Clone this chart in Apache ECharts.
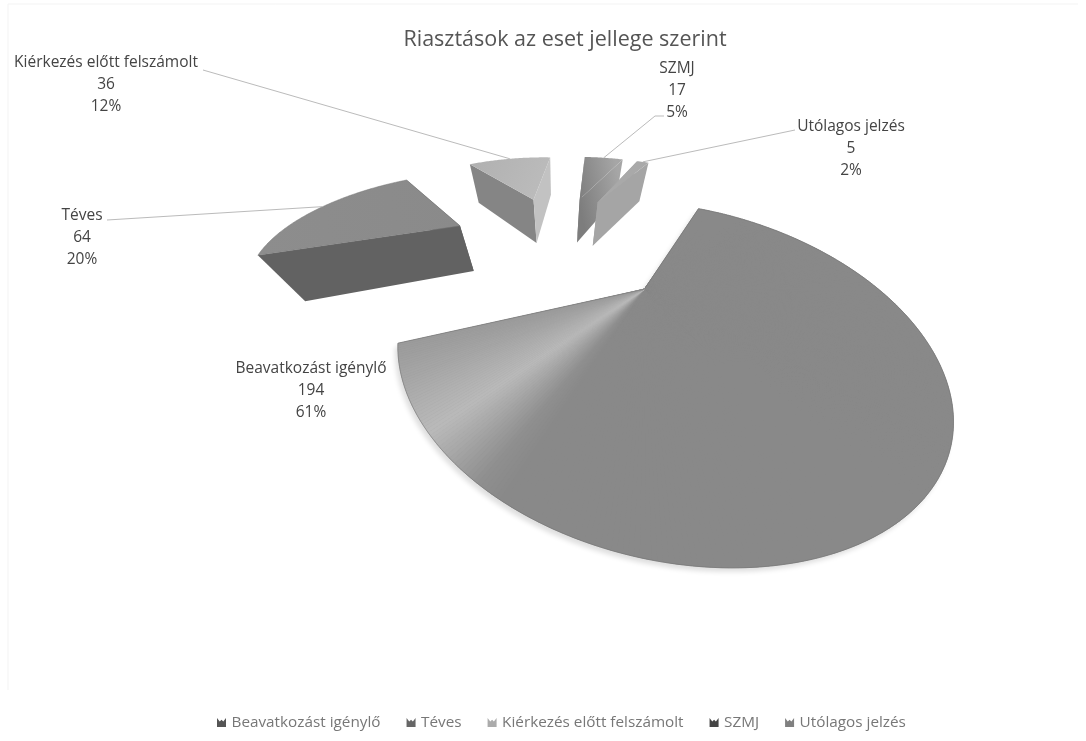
<!DOCTYPE html>
<html><head><meta charset="utf-8">
<style>html,body{margin:0;padding:0;background:#fff}#c{width:1086px;height:741px}</style>
<script src="https://cdn.jsdelivr.net/npm/echarts@6/dist/echarts.min.js"></script></head>
<body><div id="c"></div>
<script>
const chartTitle='Riasztások az eset jellege szerint';
const categories=['Beavatkozást igénylő','Téves','Kiérkezés előtt felszámolt','SZMJ','Utólagos jelzés'];
const values=[194,64,36,17,5];
const percents=['61%','20%','12%','5%','2%'];
// Slice pull-out, as a fraction of the pie radius
const explode=[0.605327,0.584579,0.587503,0.590144,0.579689];
// Projective camera of the tilted pie: pie plane -> screen, and the column for the pie's thickness
const cameraX=[43.4129,296.056,556.366];
const cameraY=[-8.04805,10.7215,239.345];
const cameraW=[-0.210130,0.361562,1];
const thickness=[98.0733,96.1797,0.175763];
// Label layout: centre x, top y; leader path start
const labelPos=[[311,358],[82,205],[106,52],[677,58],[851,116]];
const leaderFrom=[null,[[107,220]],[[203,70]],[[664,116],[655,116]],[[795,130]]];
const legendColors=['#555555','#666666','#ababab','#444444','#808080'];
// Conic sheen on the large slice: screen direction from its apex (degrees) -> grey level
const sheen=[[0,137],[124,137],[130,143],[146,186],[160,165],[172,148],[200,148],[201,137],[360,137]];

const total=values.reduce((a,b)=>a+b,0);
const angles=[];let acc=0;for(const v of values){const a0=acc/total*2*Math.PI;acc+=v;angles.push([a0,acc/total*2*Math.PI]);}
function proj(u,v,z){
 const X=cameraX[0]*u+cameraX[1]*v+cameraX[2]+thickness[0]*z,
       Y=cameraY[0]*u+cameraY[1]*v+cameraY[2]+thickness[1]*z,
       W=cameraW[0]*u+cameraW[1]*v+cameraW[2]+thickness[2]*z;
 return [X/W,Y/W];}
function pt(i,th,z,r){const m=(angles[i][0]+angles[i][1])/2,e=explode[i];
 return proj(e*Math.sin(m)+r*Math.sin(th),e*Math.cos(m)+r*Math.cos(th),z);}
function sheenColor(p,apex){
 let d=Math.atan2(p[1]-apex[1],p[0]-apex[0])*180/Math.PI;if(d<0)d+=360;
 let g=sheen[0][1];
 for(let k=0;k<sheen.length-1;k++){if(d>=sheen[k][0]&&d<=sheen[k+1][0]){g=sheen[k][1]+(sheen[k+1][1]-sheen[k][1])*(d-sheen[k][0])/(sheen[k+1][0]-sheen[k][0]);break;}}
 g=Math.round(g);return 'rgb('+g+','+g+','+g+')';}
const stops=a=>a.map(([offset,color])=>({offset,color}));
const lin=(x,y,x2,y2,a)=>({type:'linear',x,y,x2,y2,global:true,colorStops:stops(a)});
const szmjFill=lin(578,200,622,190,[[0,'#7d7d7d'],[1,'#a6a6a6']]);
const faces=[
 {top:'#898989',s:'#777777',e:'#777777',edge:'#707070'},
 {top:lin(260,250,460,200,[[0,'#8d8d8d'],[1,'#8a8a8a']]),s:'#626262',e:'#626262',edge:'#777777'},
 {top:lin(470,160,549,200,[[0,'#b0b0b0'],[1,'#bdbdbd']]),s:'#858585',e:'#c2c2c2',edge:null},
 {top:szmjFill,s:szmjFill,e:szmjFill,edge:null},
 {top:'#a9a9a9',s:'#a9a9a9',e:'#a5a5a5',edge:null}
];
const textFont='"Open Sans", Lato, sans-serif';
function item(i){return function(){
 const [a0,a1]=angles[i],N=Math.max(6,Math.round((a1-a0)/0.012)),t=[],b=[];
 for(let k=0;k<=N;k++){const th=a0+(a1-a0)*k/N;t.push(pt(i,th,0,1));b.push(pt(i,th,1,1));}
 const at=pt(i,0,0,0),ab=pt(i,0,1,0),f=faces[i];
 const kids=[
  {type:'polygon',shape:{points:[t[0],at,ab,b[0]]},style:{fill:f.s}},
  {type:'polygon',shape:{points:[t[N],at,ab,b[N]]},style:{fill:f.e}},
  {type:'polygon',shape:{points:[at,...t]},style:Object.assign({fill:f.top},i===0?{shadowColor:'rgba(0,0,0,0.13)',shadowBlur:5,shadowOffsetX:-3,shadowOffsetY:4}:{})}
 ];
 if(i===0){for(let k=0;k<N;k++){const c=sheenColor(t[k],at);
  kids.push({type:'polygon',shape:{points:[at,t[k],t[k+1]]},style:{fill:c,stroke:c,lineWidth:0.6}});}}
 if(f.edge)kids.push({type:'polygon',shape:{points:[at,...t]},style:{fill:null,stroke:f.edge,lineWidth:0.5}});
 if(leaderFrom[i]){const q=pt(i,(a0+a1)/2,0,1);
  kids.push({type:'polyline',shape:{points:[...leaderFrom[i],q]},style:{fill:null,stroke:'#bbbbbb',lineWidth:1}});}
 kids.push({type:'text',style:{text:categories[i]+'\n'+values[i]+'\n'+percents[i],x:labelPos[i][0],y:labelPos[i][1],textAlign:'center',textVerticalAlign:'top',fontFamily:textFont,fontSize:15.5,fontWeight:500,lineHeight:22,fill:'#444444'}});
 return {type:'group',children:kids};};}
const chart=echarts.init(document.getElementById('c'));
chart.setOption({animation:false,backgroundColor:'#ffffff',
 title:{text:chartTitle,left:560,top:24,textAlign:'center',textStyle:{fontFamily:textFont,fontSize:21.5,fontWeight:500,color:'#555555'}},
 legend:{data:categories,left:212,top:710,itemWidth:10,itemHeight:9,itemGap:26,icon:'path://M0,0 L3,4 L5,2 L7,4 L10,0 L10,10 L0,10 Z',textStyle:{fontFamily:textFont,fontSize:15.3,color:'#777777'}},
 graphic:[{type:'polyline',silent:true,shape:{points:[[8,690],[8,4],[1078,4]]},style:{fill:null,stroke:'#f3f3f3',lineWidth:1}}],
 series:categories.map((n,i)=>({type:'custom',name:n,coordinateSystem:'none',itemStyle:{color:legendColors[i]},data:[values[i]],renderItem:item(i)}))
});
</script></body></html>
